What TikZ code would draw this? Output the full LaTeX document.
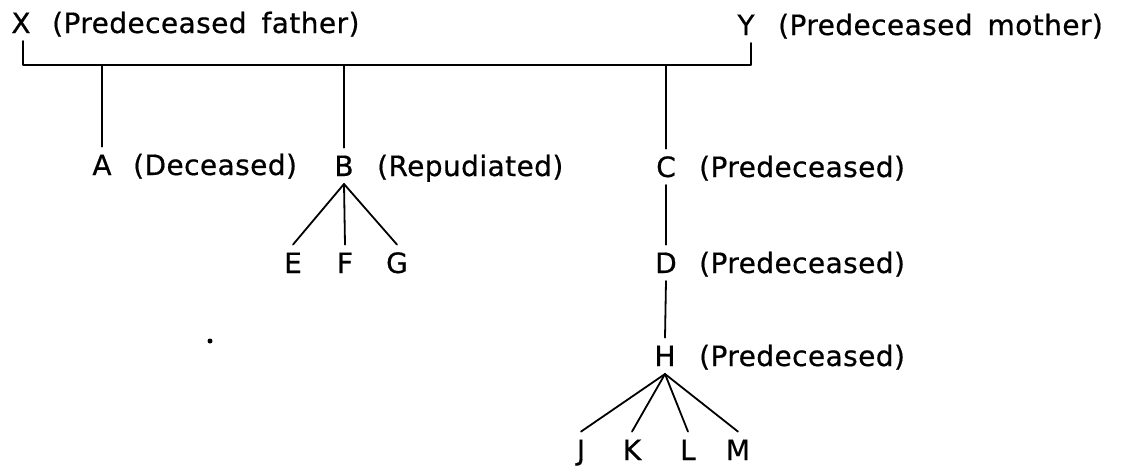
\documentclass[tikz,border=0pt]{standalone}
\usepackage{fontspec}
\setmainfont{DejaVu Sans}[WordSpace=1.6, LetterSpace=1.5, FakeBold=0.6]
\begin{document}
\begin{tikzpicture}[x=1pt,y=-1pt,
  person/.style={font=\fontsize{28}{30}\selectfont, inner sep=0pt, outer sep=8pt, text height=20.4pt, text depth=0pt, anchor=base},
  note/.style={font=\fontsize{28}{30}\selectfont, inner sep=0pt, anchor=base west},
  tie/.style={line width=1.8pt, line cap=round, line join=round}]
\useasboundingbox (0,0) rectangle (1122,469);
% people
\node[person] (X) at (21,33) {X};
\node[note] (Xn) at (52,33) {(Predeceased father)};
\node[person] (Y) at (746,35) {Y};
\node[note] (Yn) at (778,35) {(Predeceased mother)};
\node[person] (A) at (102,175) {A};
\node[note] (An) at (133,175) {(Deceased)};
\node[person] (B) at (344,176) {B};
\node[note] (Bn) at (377,176) {(Repudiated)};
\node[person] (C) at (666,177) {C};
\node[note] (Cn) at (699,177) {(Predeceased)};
\node[person] (D) at (666,273) {D};
\node[note] (Dn) at (699,273) {(Predeceased)};
\node[person] (H) at (665,366) {H};
\node[note] (Hn) at (699,366) {(Predeceased)};
\node[person] (E) at (293,273) {E};
\node[person] (F) at (345,273) {F};
\node[person] (G) at (397,273) {G};
\node[person] (J) at (581,460) {J};
\node[person] (K) at (632,460) {K};
\node[person] (L) at (688,460) {L};
\node[person] (M) at (738,460) {M};
% connectors
\coordinate (bar) at (0,65);
\coordinate (xb) at ([xshift=2pt]X.south);
\coordinate (yb) at ([xshift=5pt]Y.south);
\draw[tie] (xb) |- (yb |- bar) -- (yb);
\draw[tie] (A.north |- bar) -- (A.north);
\draw[tie] (B.north |- bar) -- (B.north);
\draw[tie] (C.north |- bar) -- (C.north);
\draw[tie] (B.south) -- (E.north);
\draw[tie] (B.south) -- (F.north);
\draw[tie] (B.south) -- (G.north);
\draw[tie] (C.south) -- (D.north);
\draw[tie] (D.south) -- (H.north);
\draw[tie] (H.south) -- (J.north);
\draw[tie] (H.south) -- (K.north);
\draw[tie] (H.south) -- (L.north);
\draw[tie] (H.south) -- (M.north);
% stray dot
\fill (210,341) circle (2.5pt);
\end{tikzpicture}
\end{document}
